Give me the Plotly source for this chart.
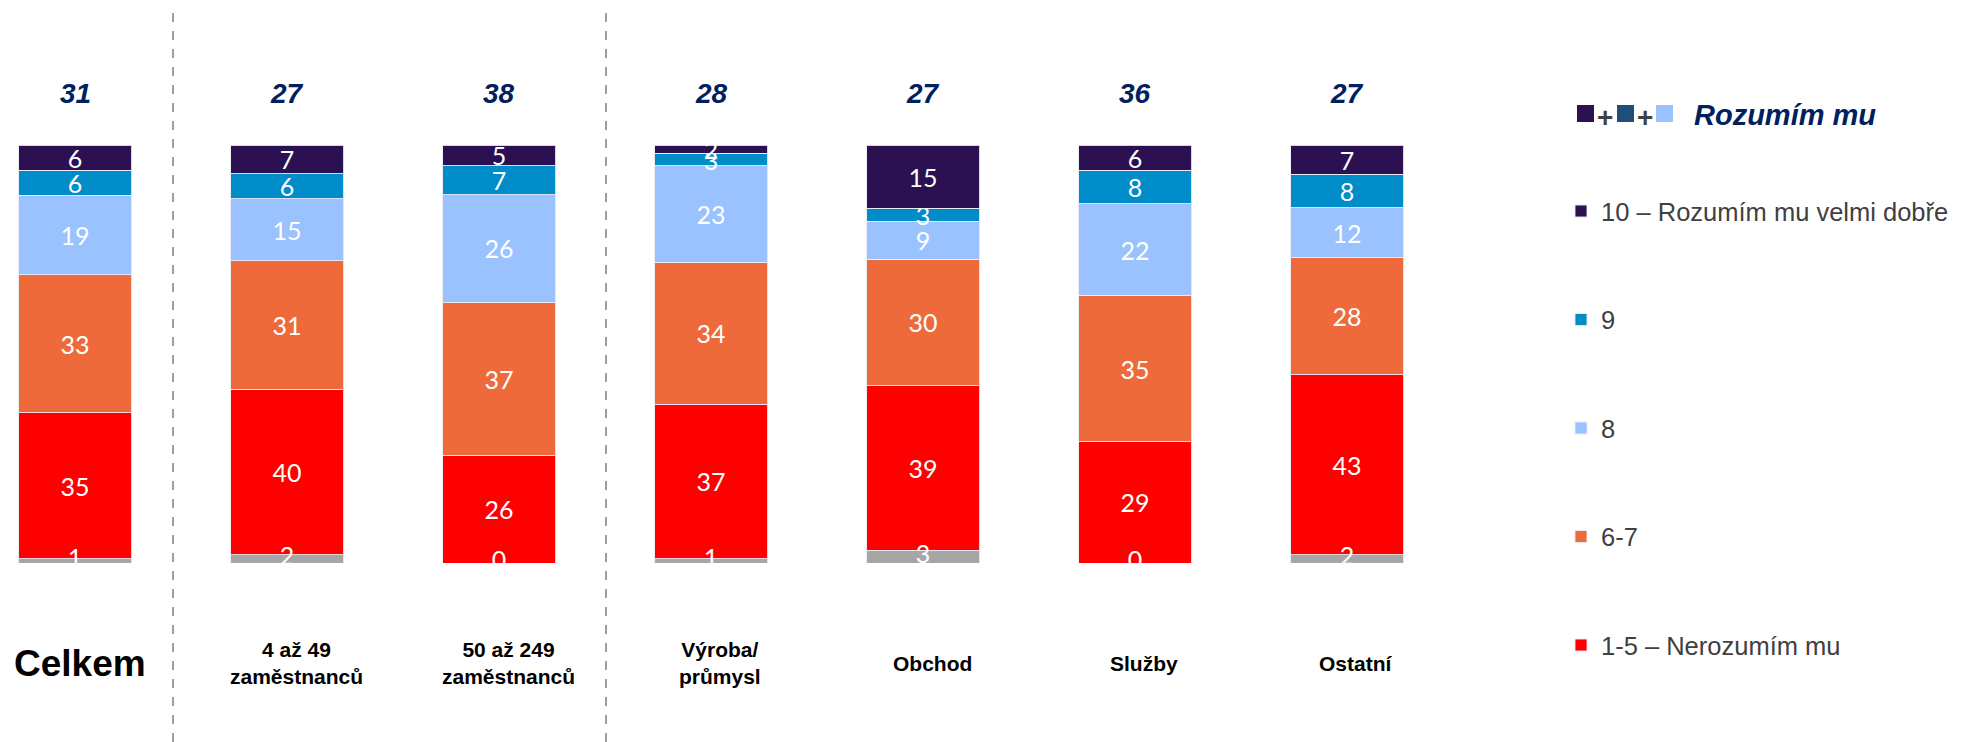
import plotly.graph_objects as go

# ---------------- data ----------------
categories = ["Celkem", "4 až 49 zaměstnanců", "50 až 249 zaměstnanců",
              "Výroba/průmysl", "Obchod", "Služby", "Ostatní"]
cat_labels = ["Celkem", "4 až 49<br>zaměstnanců", "50 až 249<br>zaměstnanců",
              "Výroba/<br>průmysl", "Obchod", "Služby", "Ostatní"]
nevim = [1, 2, 0, 1, 3, 0, 2]
v1_5 = [35, 40, 26, 37, 39, 29, 43]
v6_7 = [33, 31, 37, 34, 30, 35, 28]
v8 = [19, 15, 26, 23, 9, 22, 12]
v9 = [6, 6, 7, 3, 3, 8, 8]
v10 = [6, 7, 5, 2, 15, 6, 7]
totals = [31, 27, 38, 28, 27, 36, 27]

series = [
    ("1-5 – Nerozumím mu", v1_5, "#FF0000"),
    ("6-7", v6_7, "#EE6A3A"),
    ("8", v8, "#99C2FF"),
    ("9", v9, "#008CC9"),
    ("10 – Rozumím mu velmi dobře", v10, "#2B1152"),
]

# ---------------- geometry helpers (reference pixel coords) ----------------
OFF = 8                    # page body margin of the html page
W, H = 1967 - OFF, 742 - OFF
PLOT_BOTTOM = 563          # reference pixel row of value 0
PX_PER_UNIT = 4.18         # pixels per percent
SPACING = 212              # pixels between bar centres
X0 = 75                    # reference pixel centre of first bar
PLOT_H = PLOT_BOTTOM - OFF


def px(x):
    return (x - OFF) / W


def py(y):
    return (PLOT_BOTTOM - y) / PLOT_H


LBL_FONT = dict(family="Lato", size=25, color="white")
LINE = dict(color="rgba(235,235,245,0.9)", width=1)

fig = go.Figure()
# "don't know" grey base (not in legend)
fig.add_trace(go.Bar(
    x=categories, y=nevim, name="Nevím", marker=dict(color="#A6A6A6", line=LINE),
    showlegend=False, hoverinfo="skip",
))
for i, (name, vals, color) in enumerate(series):
    fig.add_trace(go.Bar(
        x=categories, y=vals, name=name,
        text=[str(v) for v in vals], texttemplate="%{text}",
        textposition="inside", insidetextanchor="middle",
        constraintext="none", textangle=0, cliponaxis=True,
        insidetextfont=LBL_FONT,
        marker=dict(color=color, line=LINE),
        legendgroup="g%d" % i, legendrank=len(series) - i, hoverinfo="skip",
    ))

# labels of the grey base, centred on the (normalised) segment, clipped at the axis
sums = [a + b + c + d + e + f for a, b, c, d, e, f in zip(nevim, v1_5, v6_7, v8, v9, v10)]
fig.add_trace(go.Scatter(
    x=categories, y=[n / s * 100 / 2 for n, s in zip(nevim, sums)],
    text=[str(n) for n in nevim], mode="text", textposition="middle center",
    textfont=LBL_FONT, cliponaxis=True, showlegend=False, hoverinfo="skip",
))

annotations = []
# totals above bars
for c, t in zip(categories, totals):
    annotations.append(dict(
        x=c, xref="x", y=py(94), yref="paper", yanchor="middle", xanchor="center",
        text="<b><i>%d</i></b>" % t, showarrow=False,
        font=dict(family="Liberation Sans", size=28, color="#002060"),
    ))
# category labels below
for i, (c, lab) in enumerate(zip(categories, cat_labels)):
    big = i == 0
    annotations.append(dict(
        x=c, xref="x", xshift=5 if big else 9, y=py(663), yref="paper",
        yanchor="middle", xanchor="center",
        text="<b>%s</b>" % lab, showarrow=False, align="center",
        font=dict(family="Liberation Sans", size=37 if big else 21, color="black"),
    ))

# legend header: squares + "Rozumím mu"
shapes = []
for (x0, x1, col) in [(1577, 1594, "#2B1152"), (1617, 1634, "#1F4E79"), (1656, 1673, "#99C2FF")]:
    shapes.append(dict(type="rect", xref="paper", yref="paper",
                       x0=px(x0), x1=px(x1), y0=py(122), y1=py(105),
                       fillcolor=col, line=dict(width=0)))
for xc in (1605, 1645):
    annotations.append(dict(x=px(xc), xref="paper", xanchor="center", y=py(117), yref="paper",
                            yanchor="middle", text="<b>+</b>", showarrow=False,
                            font=dict(family="Liberation Sans", size=28, color="#404040")))
annotations.append(dict(x=px(1692), xref="paper", xanchor="left", y=py(115), yref="paper",
                        yanchor="middle", text="<b><i>Rozumím mu</i></b>", showarrow=False,
                        font=dict(family="Liberation Sans", size=29, color="#002060")))

# dashed separators
for xpix in (173, 606):
    xv = (xpix - X0) / SPACING
    shapes.append(dict(type="line", xref="x", yref="paper", x0=xv, x1=xv,
                       y0=py(742), y1=py(10),
                       line=dict(color="#7F7F7F", width=1.5, dash="dash")))

LEG_SIZE = 25.5
item_h = LEG_SIZE * 1.3 + 3
fig.update_layout(
    width=W, height=H,
    margin=dict(l=0, r=0, t=0, b=H - PLOT_H, pad=0, autoexpand=False),
    barmode="stack", barnorm="percent", bargap=1 - 113 / SPACING,
    paper_bgcolor="white", plot_bgcolor="white",
    xaxis=dict(type="category", range=[(OFF - X0) / SPACING, (1967 - X0) / SPACING],
               showticklabels=False, showgrid=False, zeroline=False, showline=False,
               fixedrange=True),
    yaxis=dict(range=[0, PLOT_H / PX_PER_UNIT], showticklabels=False,
               showgrid=False, zeroline=False, showline=False, fixedrange=True),
    legend=dict(x=px(1561), xanchor="left", y=py(211 - 5 - item_h / 2), yanchor="top",
                traceorder="grouped", tracegroupgap=108.5 - item_h,
                font=dict(family="Liberation Sans", size=LEG_SIZE, color="#404040"),
                bgcolor="rgba(0,0,0,0)", borderwidth=0),
    annotations=annotations, shapes=shapes,
    showlegend=True,
)

fig.write_html("out.html")
